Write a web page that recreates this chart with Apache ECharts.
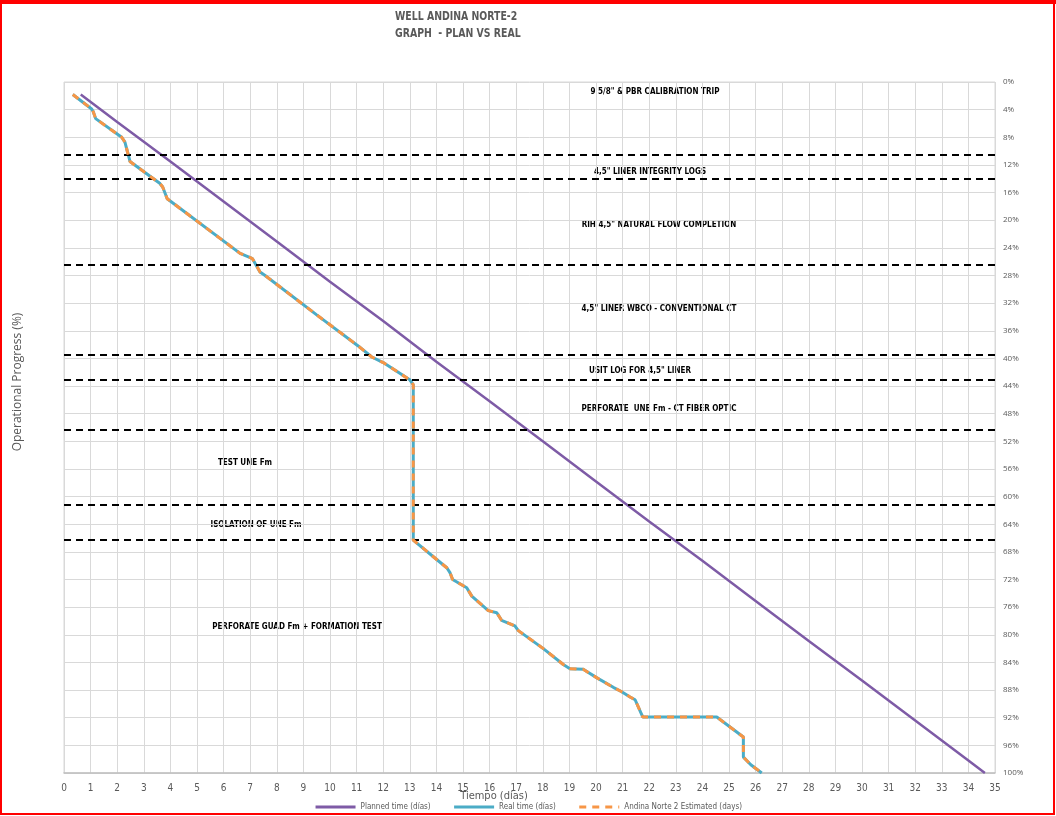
<!DOCTYPE html>
<html><head><meta charset="utf-8">
<script src="https://cdn.jsdelivr.net/npm/echarts@6/dist/echarts.min.js"></script>
<style>html,body{margin:0;padding:0;background:#fff}#c{width:1056px;height:816px}</style>
</head><body><div id="c"></div>
<script>
// ---- DATA ----
const seriesNames = ['Planned time (días)', 'Real time (días)', 'Andina Norte 2 Estimated (days)'];
const plannedPoints = [[0.63,1.8],[2,5.8],[4,11.5],[6,17.3],[8,23.1],[10,28.9],[12,34.6],[14,40.5],[16,46.2],[18,52.0],[20,57.8],[22,63.6],[24,69.3],[26,75.1],[28,80.9],[30,86.6],[32,92.4],[34,98.2],[34.62,100]];
const realPoints = [[0.33,1.8],[1.04,3.9],[1.1,4.3],[1.19,5.3],[2.17,8.0],[2.29,8.7],[2.42,10.6],[2.48,11.5],[3.61,14.7],[3.71,15.2],[3.88,16.9],[6.62,24.8],[7.0,25.4],[7.09,25.6],[7.37,27.5],[7.56,28.0],[9.5,33.7],[11.06,38.2],[11.57,39.8],[12.0,40.6],[13.0,43.1],[13.13,43.8],[13.13,66.3],[14.01,69.1],[14.39,70.3],[14.51,71.0],[14.57,71.2],[14.61,72.0],[15.14,73.2],[15.33,74.4],[15.95,76.5],[16.27,76.8],[16.45,77.9],[16.95,78.7],[17.08,79.4],[18.02,82.0],[18.77,84.3],[19.02,84.9],[19.52,85.0],[20.02,86.2],[20.65,87.6],[20.95,88.2],[21.28,89.0],[21.47,89.4],[21.76,91.9],[24.54,91.9],[25.54,94.8],[25.54,97.7],[25.82,98.8],[26.23,100]];
const estimatedPoints = [[0.33,1.8],[1.04,3.9],[1.1,4.3],[1.19,5.3],[2.17,8.0],[2.29,8.7],[2.42,10.6],[2.48,11.5],[3.61,14.7],[3.71,15.2],[3.88,16.9],[6.62,24.8],[7.0,25.4],[7.09,25.6],[7.37,27.5],[7.56,28.0],[9.5,33.7],[11.06,38.2],[11.57,39.8],[12.0,40.6],[13.0,43.1],[13.13,43.8],[13.13,66.3],[14.01,69.1],[14.39,70.3],[14.51,71.0],[14.57,71.2],[14.61,72.0],[15.14,73.2],[15.33,74.4],[15.95,76.5],[16.27,76.8],[16.45,77.9],[16.95,78.7],[17.08,79.4],[18.02,82.0],[18.77,84.3],[19.02,84.9],[19.52,85.0],[20.02,86.2],[20.65,87.6],[20.95,88.2],[21.28,89.0],[21.47,89.4],[21.76,91.9],[24.54,91.9],[25.54,94.8],[25.54,97.7],[25.82,98.8],[26.23,100]];
const phaseLevels = [10.5, 14.0, 26.4, 39.4, 43.1, 50.3, 61.2, 66.2];
const phaseLabels = ['9 5/8" & PBR CALIBRATION TRIP','4,5" LINER INTEGRITY LOGS','RIH 4,5" NATURAL FLOW COMPLETION','4,5" LINER WBCO - CONVENTIONAL CT','USIT LOG FOR 4,5" LINER','PERFORATE  UNE Fm - CT FIBER OPTIC','TEST UNE Fm','ISOLATION OF UNE Fm','PERFORATE GUAD Fm + FORMATION TEST'];
const titleLines = ['WELL ANDINA NORTE-2', 'GRAPH  - PLAN VS REAL'];

// ---- STYLE / LAYOUT ----
const FF = '"Liberation Sans Narrow","DejaVu Sans Condensed","Liberation Sans",sans-serif';
const GRAY = '#595959';
const labelPos = [[655,92],[650,172],[659,225],[659,309],[640,371],[659,409],[245,463],[256,525],[297,627]];

const chart = echarts.init(document.getElementById('c'), null, {renderer:'canvas'});
const graphics = [
  {type:'rect', z:100, shape:{x:1,y:1,width:1053,height:813}, style:{fill:'none', stroke:'#ff0000', lineWidth:2}},
  {type:'rect', z:100, shape:{x:0,y:0,width:1056,height:4}, style:{fill:'#ff0000'}},
  {type:'text', x:395, y:17, scaleX:0.8, style:{text:titleLines[0], fill:GRAY, fontFamily:FF, fontSize:13, fontWeight:'bold', textVerticalAlign:'middle', verticalAlign:'middle'}},
  {type:'text', x:395, y:34, scaleX:0.8, style:{text:titleLines[1], fill:GRAY, fontFamily:FF, fontSize:13, fontWeight:'bold', textVerticalAlign:'middle', verticalAlign:'middle'}},
  {type:'text', x:18, y:382, rotation:Math.PI/2, style:{text:'Operational Progress (%)', fill:GRAY, fontFamily:'"Open Sans","DejaVu Sans",sans-serif', fontSize:12, textAlign:'center', align:'center', textVerticalAlign:'middle', verticalAlign:'middle'}},
  {type:'text', x:494, y:796, style:{text:'Tiempo (días)', fill:GRAY, fontFamily:FF, fontSize:11, textAlign:'center', align:'center', textVerticalAlign:'middle', verticalAlign:'middle'}}
];
phaseLabels.forEach((t,i)=>{
  graphics.push({type:'text', x:labelPos[i][0], y:labelPos[i][1], scaleX:0.89, style:{text:t, fill:'#000', fontFamily:FF, fontSize:9, fontWeight:'bold', textAlign:'center', align:'center', textVerticalAlign:'middle', verticalAlign:'middle'}});
});

chart.setOption({
  animation:false,
  backgroundColor:'#fff',
  grid:{left:64, right:61, top:82, bottom:43, show:true, borderColor:'#d9d9d9', borderWidth:1},
  xAxis:{type:'value', min:0, max:35, interval:1,
    axisLine:{show:true, onZero:false, lineStyle:{color:'#bfbfbf', width:1.5}},
    axisTick:{show:false},
    splitLine:{show:true, lineStyle:{color:'#d9d9d9', width:1}},
    axisLabel:{color:GRAY, fontSize:10, fontFamily:FF, margin:10}},
  yAxis:{type:'value', position:'right', inverse:true, min:0, max:100, interval:4,
    axisLine:{show:false}, axisTick:{show:false},
    splitLine:{show:true, lineStyle:{color:'#d9d9d9', width:1}},
    axisLabel:{color:GRAY, fontSize:8, fontFamily:'"Open Sans","DejaVu Sans",sans-serif', margin:8, formatter:'{value}%'}},
  legend:{data:seriesNames, bottom:5, left:'center', padding:0, itemWidth:40, itemHeight:8, itemGap:22,
    itemStyle:{opacity:0},
    lineStyle:{width:3},
    textStyle:{color:GRAY, fontSize:8, fontFamily:FF}},
  series:[
    {name:seriesNames[0], type:'line', data:plannedPoints, symbol:'none', showSymbol:false, z:3,
      color:'#7E5BA6', lineStyle:{color:'#7E5BA6', width:2.5},
      markLine:{silent:true, symbol:['none','none'], label:{show:false},
        lineStyle:{color:'#000', width:1.8, type:[7,5]},
        emphasis:{disabled:true},
        data:phaseLevels.map(v=>({yAxis:v}))}},
    {name:seriesNames[1], type:'line', data:realPoints, symbol:'none', showSymbol:false, z:4,
      color:'#4BACC6', lineStyle:{color:'#4BACC6', width:3}},
    {name:seriesNames[2], type:'line', data:estimatedPoints, symbol:'none', showSymbol:false, z:5,
      color:'#F79646', lineStyle:{color:'#F79646', width:3, type:[7,6]}}
  ],
  graphic:graphics
});
</script>
</body></html>
